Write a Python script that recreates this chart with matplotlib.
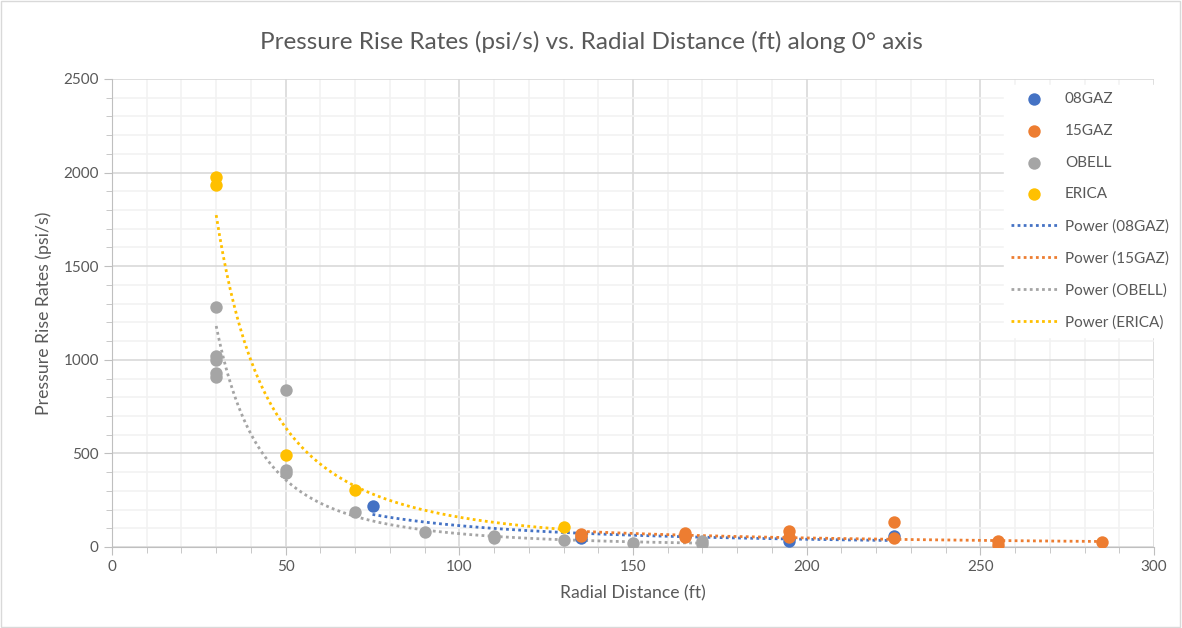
import numpy as np
import matplotlib
matplotlib.use('Agg')
import matplotlib.pyplot as plt
from matplotlib.ticker import MultipleLocator

plt.rcParams['font.family'] = ['Lato', 'DejaVu Sans']

# data
x_08gaz = [75, 135, 195, 225]
y_08gaz = [218, 50, 30, 58]

x_15gaz = [135, 135, 165, 165, 195, 195, 225, 225, 255, 255, 285]
y_15gaz = [72, 58, 73, 53, 85, 55, 135, 48, 30, 10, 28]

x_obell = [30, 30, 30, 30, 30, 50, 50, 50, 70, 90, 110, 110, 130, 150, 170, 170]
y_obell = [1282, 1018, 1000, 930, 908, 840, 412, 396, 185, 80, 60, 50, 35, 22, 30, 15]

x_erica = [30, 30, 50, 70, 130]
y_erica = [1977, 1934, 493, 304, 107]

names = ['08GAZ', '15GAZ', 'OBELL', 'ERICA']
colors = ['#4472C4', '#ED7D31', '#A5A5A5', '#FFC000']
series = [(x_08gaz, y_08gaz), (x_15gaz, y_15gaz), (x_obell, y_obell), (x_erica, y_erica)]

fig = plt.figure(figsize=(11.82, 6.28), dpi=100)
ax = fig.add_axes([112 / 1182, 1 - 547 / 628, (1154 - 112) / 1182, (547 - 79) / 628])

for (x, y), name, c in zip(series, names, colors):
    ax.scatter(x, y, s=80, color=c, label=name, zorder=3, linewidths=0)

# power trendlines (least squares in log-log space, like Excel)
for (x, y), name, c in zip(series, names, colors):
    b, a = np.polyfit(np.log(x), np.log(y), 1)
    xs = np.linspace(min(x), max(x), 200)
    ax.plot(xs, np.exp(a) * xs ** b, color=c, linestyle=(0, (1, 1.2)), linewidth=2,
            label='Power (%s)' % name, zorder=2)

ax.set_xlim(0, 300)
ax.set_ylim(0, 2500)
ax.xaxis.set_major_locator(MultipleLocator(50))
ax.xaxis.set_minor_locator(MultipleLocator(10))
ax.yaxis.set_major_locator(MultipleLocator(500))
ax.yaxis.set_minor_locator(MultipleLocator(100))
ax.grid(which='major', color='#D9D9D9', linewidth=1.2, zorder=0)
ax.grid(which='minor', color='#F2F2F2', linewidth=1.2, zorder=0)
ax.set_axisbelow(True)

for side in ['top', 'right']:
    ax.spines[side].set_visible(False)
for side in ['left', 'bottom']:
    ax.spines[side].set_color('#BFBFBF')
ax.tick_params(which='both', colors='#BFBFBF', labelcolor='#595959', labelsize=11)
ax.tick_params(which='major', length=6)
ax.tick_params(which='minor', length=4)

ax.set_xlabel('Radial Distance (ft)', fontsize=12.7, color='#595959', labelpad=8)
ax.set_ylabel('Pressure Rise Rates (psi/s)', fontsize=12.7, color='#595959', labelpad=8)
fig.text(0.5, 1 - 42 / 628, 'Pressure Rise Rates (psi/s) vs. Radial Distance (ft) along 0\u00b0 axis',
         ha='center', va='center', fontsize=17.5, color='#595959')

leg = ax.legend(loc='upper left', bbox_to_anchor=(996 / 1182, 1 - 77 / 628),
                bbox_transform=fig.transFigure, frameon=True, fontsize=11,
                handlelength=3.0, handletextpad=0.5, labelspacing=1.16, borderpad=0.5)
leg.get_frame().set_edgecolor('white')
leg.get_frame().set_facecolor('white')
leg.get_frame().set_alpha(1)
for t in leg.get_texts():
    t.set_color('#595959')

fig.patches.append(plt.Rectangle((0.001, 0.001), 0.997, 0.997, transform=fig.transFigure,
                                 fill=False, edgecolor='#D9D9D9', linewidth=1))

fig.savefig('out.png', dpi=100)
